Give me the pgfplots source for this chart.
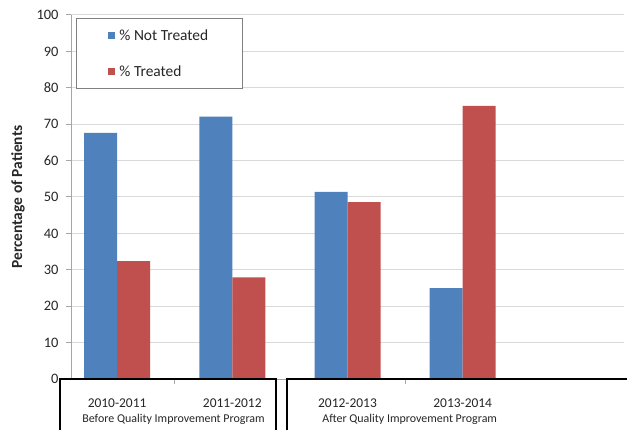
\documentclass[border=0pt]{standalone}
\usepackage{fontspec}
\setmainfont{Carlito}
\usepackage{pgfplots}
\pgfplotsset{compat=1.18}
\definecolor{barblue}{HTML}{4F81BD}
\definecolor{barred}{HTML}{C0504D}
\definecolor{gridgray}{HTML}{D9D9D9}
\definecolor{axgray}{HTML}{A6A6A6}
\definecolor{txt}{HTML}{262626}

\begin{document}
\begin{tikzpicture}
\begin{axis}[
    name=ax,
    scale only axis,
    width=553bp, height=364bp,
    ybar=0pt, bar width=33bp,
    xmin=-0.40, xmax=4.40,
    ymin=0, ymax=100,
    ytick={0,10,...,100},
    ymajorgrids, grid style={gridgray, line width=1bp},
    xtick={0,1,2,3},
    xticklabels={\textnormal{2010-2011},\textnormal{2011-2012},\textnormal{2012-2013},\textnormal{2013-2014}},
    minor xtick={0.5,2.5},
    major x tick style={draw=none},
    minor x tick style={axgray, line width=1bp},
    minor tick length=5bp,
    major tick length=5bp,
    y tick style={axgray, line width=1bp},
    tick align=outside,
    axis x line*=bottom, axis y line*=left,
    axis line style={axgray, line width=1bp, -},
    /pgf/number format/assume math mode=true,
    yticklabel style={font=\fontsize{14.5}{17}\selectfont, text=txt, xshift=-4bp},
    xticklabel style={font=\fontsize{13.5}{16}\selectfont, text=txt, anchor=base, yshift=-23bp},
    ylabel={\bfseries Percentage of Patients},
    ylabel style={font=\fontsize{15.5}{18}\selectfont, text=txt, at={(axis description cs:0,0.5)}, anchor=center, yshift=53bp},
    legend style={at={(0.009,0.992)}, anchor=north west, draw=gray, line width=1bp,
        inner xsep=32bp, inner ysep=9bp, row sep=20bp, column sep=2bp,
        font=\fontsize{15.5}{18}\selectfont, text=txt},
    legend cell align=left,
    clip=false,
]
\addplot[fill=barblue, draw=none,
    legend image code/.code={\fill[barblue] (0bp,-3.5bp) rectangle (7bp,3.5bp);}]
    coordinates {(0,67.6) (1,72.1) (2,51.4) (3,25.0)};
\addplot[fill=barred, draw=none,
    legend image code/.code={\fill[barred] (0bp,-3.5bp) rectangle (7bp,3.5bp);}]
    coordinates {(0,32.4) (1,27.9) (2,48.6) (3,75.0)};
\legend{\% Not Treated, \% Treated}

% group boxes under the axis
\draw[black, line width=1.5bp] (axis cs:-0.494,-20) -- (axis cs:-0.494,0) -- (axis cs:1.379,0) -- (axis cs:1.379,-20);
\draw[black, line width=1.5bp] (axis cs:1.474,-20) -- (axis cs:1.474,0) -- (axis cs:4.6,0);
\node[font=\fontsize{12}{14}\selectfont, text=txt, anchor=base] at (axis cs:0.49,0) [yshift=-43bp] {Before Quality Improvement Program};
\node[font=\fontsize{12}{14}\selectfont, text=txt, anchor=base] at (axis cs:2.54,0) [yshift=-43bp] {After Quality Improvement Program};
\end{axis}
\pgfresetboundingbox
\path[use as bounding box] ([shift={(-71bp,-51bp)}]ax.south west) rectangle ([shift={(556bp,379bp)}]ax.south west);
\end{tikzpicture}
\end{document}
